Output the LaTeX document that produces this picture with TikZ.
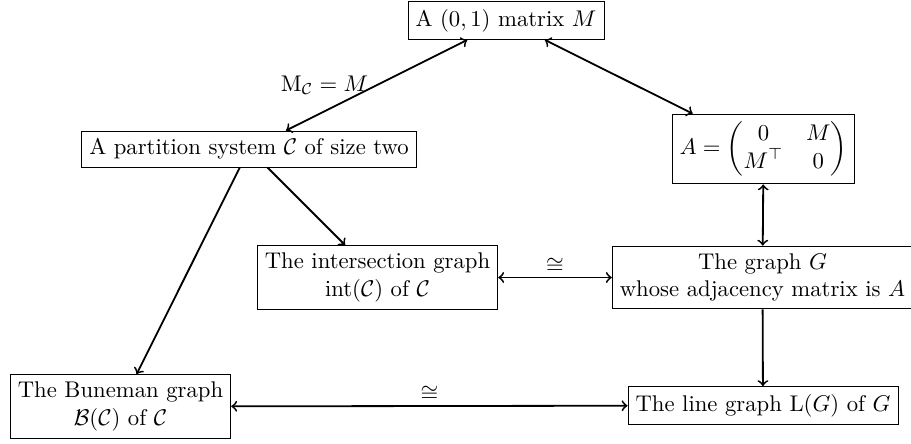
\documentclass[tikz,border=0pt]{standalone}
\usepackage{amsmath}
\begin{document}
\begin{tikzpicture}[x=0.4405pt,y=-0.4405pt,
  box/.style={draw,align=center,fill=white},
  link/.style={thick,<->},
  arr/.style={thick,->},
  isolabel/.style={midway,above,inner sep=1.5pt}]
\useasboundingbox (0,0) rectangle (911,443);
\node[box] (top) at (506,20.5) {A $(0,1)$ matrix $M$};
\node[box] (part) at (249,149) {A partition system $\mathcal{C}$ of size two};
\node[box] (mat) at (763.5,149) {$A=\begin{pmatrix} 0 & M\\ M^{\top} & 0\end{pmatrix}$};
\node[box] (int) at (377.5,277.5) {The intersection graph\\ $\mathrm{int}(\mathcal{C})$ of $\mathcal{C}$};
\node[box] (G) at (762.5,277.5) {The graph $G$\\ whose adjacency matrix is $A$};
\node[box] (bun) at (120.5,406.5) {The Buneman graph\\ $\mathcal{B}(\mathcal{C})$ of $\mathcal{C}$};
\node[box] (L) at (763,405.5) {The line graph $\mathrm{L}(G)$ of $G$};
\draw[link] (part) -- node[midway,left] {$\mathrm{M}_{\mathcal{C}}=M$} (top);
\draw[link] (top) -- (mat);
\draw[link] (mat) -- (G);
\draw[link] (int) -- node[isolabel] {$\cong$} (G);
\draw[arr] (part) -- (int);
\draw[arr] (part) -- (bun);
\draw[arr] (G) -- (L);
\draw[link] (bun) -- node[isolabel] {$\cong$} (L);
\end{tikzpicture}
\end{document}
